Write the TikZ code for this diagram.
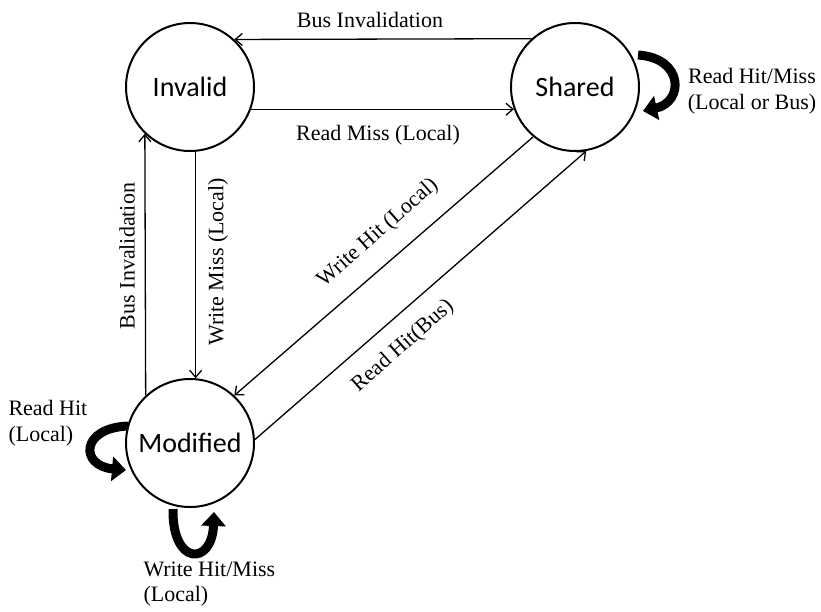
\documentclass[tikz,border=0pt]{standalone}
\usepackage{fontspec}
\setmainfont{Liberation Serif}
\newfontfamily\statefont{Carlito}
\usetikzlibrary{arrows.meta,calc}
\begin{document}
\begin{tikzpicture}[x=1pt,y=-1pt,
  stnode/.style={circle,draw,line width=2pt,minimum size=128pt,inner sep=0pt,font=\statefont\fontsize{28}{30}\selectfont},
  lbl/.style={font=\fontsize{22}{25.5}\selectfont},
  arr/.style={line width=1.3pt,-{Straight Barb[length=7pt,width=12pt]}},
  loopar/.style={line width=9pt,-{Triangle[length=14pt,width=24pt]}}]
\useasboundingbox (0,0) rectangle (821,611);
\node[stnode] (I) at (190,87) {Invalid};
\node[stnode] (S) at (575,87) {Shared};
\node[stnode] (M) at (190,443) {Modified};

% connectors
\draw[arr] (S.132.7) -- (I.47.3);
\draw[arr] (I.-20.1) -- (S.200.1);
\draw[arr] (M.133.4) -- (I.226.6);
\draw[arr] (I.-85.5) -- (M.85.5);
\draw[arr] (S.230) -- (M.47);
\draw[arr] (M.3) -- (S.-80);

% self loops
\coordinate (s1) at (638,55);
\coordinate (s2) at (643,111);
\draw[loopar] (s1) .. controls (684,58) and (684,102) .. (s2);
\coordinate (m1) at (128,426);
\coordinate (m2) at (126,470);
\draw[loopar] (m1) .. controls (80,428) and (80,466) .. (m2);
\coordinate (b1) at (173,509);
\coordinate (b2) at (214,512);
\draw[loopar] (b1) .. controls (172,566) and (212,566) .. (b2);

% labels
\node[lbl] (lbi) at (370,20) {Bus Invalidation};
\node[lbl] (lrm) at (378,135) {Read Miss (Local)};
\node[lbl,rotate=90] (lbi2) at (127,256) {Bus Invalidation};
\node[lbl,rotate=90] (lwm) at (218,262) {Write Miss (Local)};
\node[lbl,rotate=41.5] (lwh) at (378,233) {Write Hit (Local)};
\node[lbl,rotate=41.5] (lrh) at (403,346) {Read Hit(Bus)};
\node[lbl,align=center] (lsh) at (752,91) {Read Hit/Miss\\(Local or Bus)};
\node[lbl,align=left,anchor=west] (lmr) at (5,423) {Read Hit\\(Local)};
\node[lbl,align=left,anchor=west] (lmw) at (140,584) {Write Hit/Miss\\(Local)};
\end{tikzpicture}
\end{document}
